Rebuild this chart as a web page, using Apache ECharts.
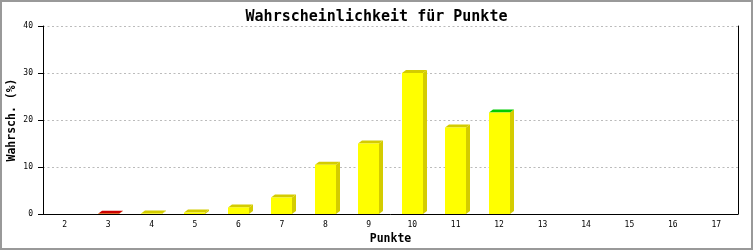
<!DOCTYPE html>
<html>
<head>
<meta charset="utf-8">
<script src="https://cdn.jsdelivr.net/npm/echarts@6/dist/echarts.min.js"></script>
<style>
html,body{margin:0;padding:0;background:#fff;}
#chart{width:753px;height:250px;}
</style>
</head>
<body>
<div id="chart"></div>
<script>
// ---- data ----
const categories = ['2','3','4','5','6','7','8','9','10','11','12','13','14','15','16','17'];
const values = [null, 0.05, 0.1, 0.3, 1.4, 3.5, 10.5, 15.0, 30.0, 18.4, 21.6, null, null, null, null, null];
const yTicks = [0, 10, 20, 30, 40];
const titleText = 'Wahrscheinlichkeit für Punkte';
const xName = 'Punkte';
const yName = 'Wahrsch. (%)';

// ---- styles ----
const FRONT = '#ffff00';
const SHADE = '#d4cc00';
const TOP_SPECIAL = { '3': '#cc0000', '12': '#00cc00' };
const MONO = '"DejaVu Sans Mono", monospace';

const chart = echarts.init(document.getElementById('chart'), null, {renderer: 'canvas'});

const barData = [];
values.forEach((v, i) => { if (v !== null) barData.push([i, v]); });

const option = {
  backgroundColor: '#ffffff',
  animation: false,
  title: {
    text: titleText,
    left: 'center',
    top: 5,
    textStyle: { fontFamily: MONO, fontWeight: 'bold', fontSize: 15, color: '#000' }
  },
  grid: { left: 43, top: 26, width: 695, height: 188, containLabel: false, outerBoundsMode: 'none' },
  xAxis: {
    type: 'category',
    data: categories,
    boundaryGap: true,
    name: xName,
    nameLocation: 'middle',
    nameGap: 19,
    nameMoveOverlap: false,
    nameTextStyle: { fontFamily: MONO, fontWeight: 'bold', fontSize: 11.5, color: '#000' },
    axisLine: { show: true, lineStyle: { color: '#000', width: 1 } },
    axisTick: { show: false },
    axisLabel: { margin: 7, fontFamily: MONO, fontSize: 8, color: '#000' },
    splitLine: { show: false }
  },
  yAxis: [{
    type: 'value',
    min: yTicks[0],
    max: yTicks[yTicks.length - 1],
    interval: yTicks[1] - yTicks[0],
    name: yName,
    nameLocation: 'middle',
    nameRotate: 90,
    nameGap: 25,
    nameMoveOverlap: false,
    nameTextStyle: { fontFamily: MONO, fontWeight: 'bold', fontSize: 11.5, color: '#000' },
    axisLine: { show: true, lineStyle: { color: '#000', width: 1 } },
    axisTick: { show: true, length: 5, lineStyle: { color: '#000' } },
    axisLabel: { margin: 10, fontFamily: MONO, fontSize: 8, color: '#000' },
    splitLine: { show: true, lineStyle: { color: '#bbbbbb', type: [2, 2.5], width: 1 } }
  }, {
    type: 'value',
    position: 'right',
    min: yTicks[0],
    max: yTicks[yTicks.length - 1],
    interval: yTicks[1] - yTicks[0],
    axisLine: { show: true, lineStyle: { color: '#000', width: 1 } },
    axisTick: { show: false },
    axisLabel: { show: false },
    splitLine: { show: false }
  }],
  graphic: [{
    type: 'rect',
    shape: { x: 1, y: 1, width: 751, height: 248 },
    style: { fill: 'none', stroke: '#999999', lineWidth: 2 },
    silent: true, z: 100
  }],
  series: [{
    type: 'custom',
    data: barData,
    encode: { x: 0, y: 1 },
    clip: false,
    z: 3,
    renderItem: function (params, api) {
      const ci = api.value(0);
      const v = api.value(1);
      const base = api.coord([ci, 0]);
      const top = api.coord([ci, v]);
      const bw = api.size([1, 0])[0] * 0.485;
      const x0 = Math.round(base[0] - bw / 2);
      const x1 = x0 + Math.round(bw);
      const y0 = base[1];
      const yt = top[1];
      const dx = 4, dy = 3;
      const topColor = TOP_SPECIAL[categories[ci]] || SHADE;
      return {
        type: 'group',
        children: [
          { type: 'polygon', shape: { points: [[x1, yt], [x1 + dx, yt - dy], [x1 + dx, y0 - dy], [x1, y0]] },
            style: { fill: SHADE } },
          { type: 'polygon', shape: { points: [[x0, yt], [x1, yt], [x1 + dx, yt - dy], [x0 + dx, yt - dy]] },
            style: { fill: topColor } },
          { type: 'rect', shape: { x: x0, y: yt, width: x1 - x0, height: y0 - yt },
            style: { fill: FRONT } }
        ]
      };
    }
  }]
};
chart.setOption(option);
</script>
</body>
</html>
